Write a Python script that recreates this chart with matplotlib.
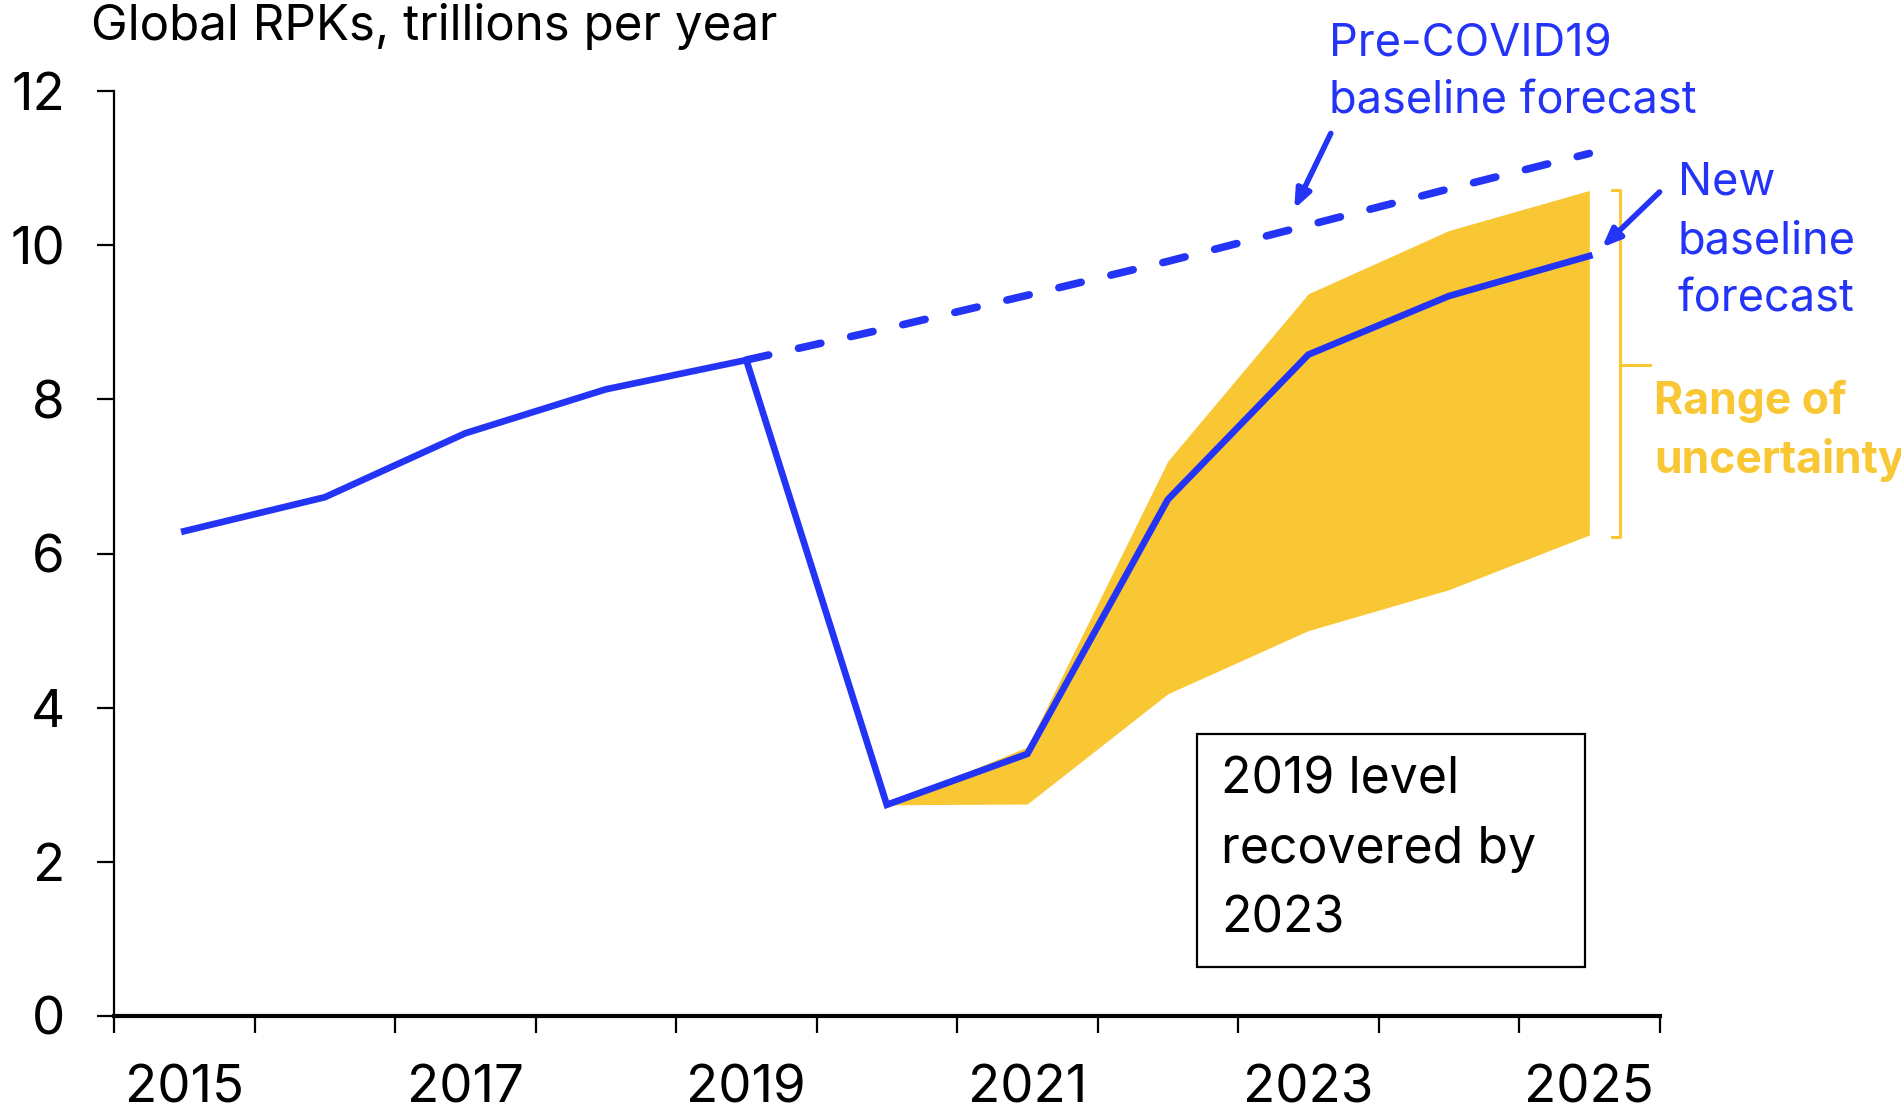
import numpy as np
import matplotlib
matplotlib.use("Agg")
import matplotlib.pyplot as plt
from matplotlib.patches import Rectangle

plt.rcParams['font.family'] = ['Inter', 'DejaVu Sans']

# data (trillions of RPKs per year)
years = [2015, 2016, 2017, 2018, 2019, 2020, 2021, 2022, 2023, 2024, 2025]
actual_new = [6.29, 6.73, 7.56, 8.13, 8.51, 2.74, 3.40, 6.70, 8.58, 9.34, 9.86]
pre_covid_years = [2019, 2020, 2021, 2022, 2023, 2024, 2025]
pre_covid = [8.51, 8.92, 9.35, 9.79, 10.26, 10.73, 11.19]
band_years = [2020, 2021, 2022, 2023, 2024, 2025]
band_low = [2.74, 2.75, 4.18, 5.00, 5.53, 6.24]
band_high = [2.74, 3.49, 7.20, 9.37, 10.19, 10.71]
xtick_years = [2015, 2017, 2019, 2021, 2023, 2025]

blue = '#2334F6'
yellow = '#F9C734'

def pos(yrs):
    return [y - years[0] for y in yrs]

fig = plt.figure(figsize=(19.01, 11.10), dpi=100)
ax = fig.add_axes([0.060, 0.0847, 0.813, 0.8333])

ax.fill_between(pos(band_years), band_low, band_high, color=yellow, lw=0)
ax.plot(pos(years), actual_new, color=blue, lw=4.8, solid_joinstyle='miter')
ax.plot(pos(pre_covid_years), pre_covid, color=blue, lw=5.5, dashes=(3.0, 4.0),
        dash_capstyle='round')

ax.set_xlim(-0.5, len(years) - 0.5)
ax.set_ylim(0, 12)

# category axis: ticks on boundaries, labels at centres
ax.set_xticks(np.arange(-0.5, len(years), 1))
ax.set_xticklabels([])
ax.set_xticks(pos(xtick_years), minor=True)
ax.set_xticklabels([str(y) for y in xtick_years], minor=True)
ax.tick_params(axis='x', which='major', length=12, width=1.6, direction='out')
ax.tick_params(axis='x', which='minor', length=0, pad=35, labelsize=38)
ax.set_yticks([0, 2, 4, 6, 8, 10, 12])
ax.tick_params(axis='y', length=12, width=1.6, pad=23.5, labelsize=38)

for s in ['top', 'right']:
    ax.spines[s].set_visible(False)
ax.spines['left'].set_linewidth(1.6)
ax.spines['bottom'].set_linewidth(3)

fig.text(0.048, 1 - 27 / 1110, 'Global RPKs, trillions per year', fontsize=35.5,
         va='center', ha='left')

# annotations
arrow = dict(arrowstyle='-|>,head_length=1.1,head_width=0.45', color=blue, lw=4,
             shrinkA=0, shrinkB=0)
ax.text(8.15, 12.24, 'Pre-COVID19\nbaseline forecast', color=blue, fontsize=32.5,
        va='center', ha='left', clip_on=False, linespacing=1.5)
ax.annotate('', xy=(7.90, 10.47), xytext=(8.16, 11.45), arrowprops=arrow,
            annotation_clip=False)
ax.text(10.63, 10.05, 'New\nbaseline\nforecast', color=blue, fontsize=32.5,
        va='center', ha='left', clip_on=False, linespacing=1.5)
ax.annotate('', xy=(10.09, 9.97), xytext=(10.5, 10.69), arrowprops=arrow,
            annotation_clip=False)

# bracket for range of uncertainty
ax.plot([10.16, 10.22, 10.22, 10.16], [10.71, 10.71, 6.21, 6.21], color=yellow,
        lw=2.2, clip_on=False)
ax.plot([10.22, 10.43], [8.44, 8.44], color=yellow, lw=2.2, clip_on=False)
ax.text(10.46, 7.59, 'Range of\nuncertainty', color=yellow, fontsize=32,
        fontweight='bold', va='center', ha='left', clip_on=False, linespacing=1.45)

# callout box
ax.add_patch(Rectangle((7.21, 0.63), 2.76, 3.03, fill=False, ec='black', lw=1.6))
ax.text(7.38, 2.16, '2019 level\nrecovered by\n2023', fontsize=36, va='center',
        ha='left', linespacing=1.62)

fig.savefig('out.png', dpi=100, facecolor='white')
